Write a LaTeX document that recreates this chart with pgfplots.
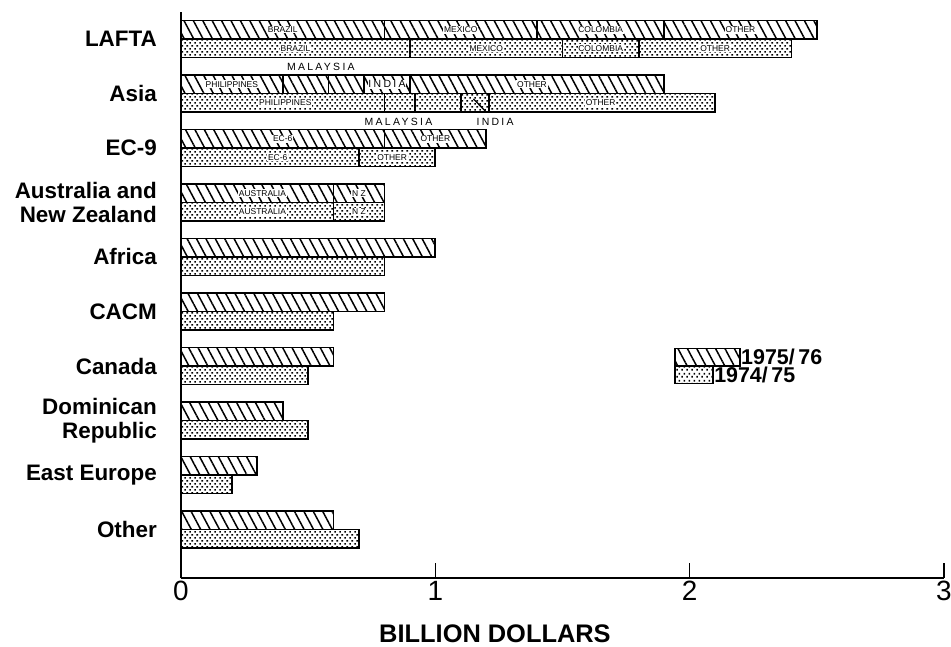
\documentclass[border=0pt]{standalone}
\usepackage{fontspec}
\setmainfont{Liberation Sans}
\usepackage{pgfplots}
\pgfplotsset{compat=1.18}
\usetikzlibrary{patterns,patterns.meta}

\pgfdeclarepatternformonly{mydots}{\pgfqpoint{0bp}{0bp}}{\pgfqpoint{4.6bp}{6.4bp}}{\pgfqpoint{4.6bp}{6.4bp}}{%
 \pgfpathrectangle{\pgfqpoint{0.4bp}{0.4bp}}{\pgfqpoint{1.7bp}{1.7bp}}%
 \pgfpathrectangle{\pgfqpoint{2.7bp}{3.6bp}}{\pgfqpoint{1.7bp}{1.7bp}}%
 \pgfusepath{fill}}

\tikzset{
 hatchfill/.style={draw=black, line width=1.8bp, fill=white, postaction={pattern={Lines[angle=-62,distance=8.3bp,line width=1.5bp]}}},
 dotfill/.style={draw=black, line width=1.8bp, fill=white, postaction={pattern=mydots}},
 inlab/.style={font=\fontsize{8.5}{9}\selectfont, fill=white, inner sep=0.8bp},
 sp/.style={font=\addfontfeature{LetterSpace=22}\fontsize{10.5}{11}\selectfont, inner sep=0.8bp},
}
\pgfplotsset{
 y76/.style={xbar, bar width=0.34, bar shift=0.17, hatchfill},
 y75/.style={xbar, bar width=0.34, bar shift=-0.17, dotfill},
 common/.style={at={(0,0)}, anchor=south west,
  scale only axis, width=763bp, height=566bp,
  xmin=0, xmax=3, ymin=-0.89, ymax=9.495, clip=false},
}

\begin{document}
\begin{tikzpicture}
\useasboundingbox (-181bp,-69bp) rectangle (770bp,578bp);
\begin{axis}[
 common,
 axis lines=left, axis line style={-, line width=2bp},
 xtick={0,1,2,3}, ytick={0,...,9},
 yticklabels={Other, East Europe, Dominican\\Republic, Canada, CACM, Africa, Australia and\\New Zealand, EC-9, Asia, LAFTA},
 yticklabel style={align=right, anchor=east, inner sep=0pt, xshift=-24bp, font=\bfseries\fontsize{22.5}{24}\selectfont},
 xticklabel style={font=\fontsize{28}{30}\selectfont, inner sep=0pt, anchor=north, yshift=-3bp},
 /pgf/number format/assume math mode=true,
 tick align=inside, major tick length=15bp,
 xtick style={line width=1.5bp, black},
 ytick style={draw=none},
 xlabel={BILLION DOLLARS},
 xlabel style={at={(rel axis cs:0.4115,0)}, anchor=north, inner sep=0pt, yshift=-47bp, font=\bfseries\fontsize{25.5}{27}\selectfont},
]
% 1975/76 layers (cumulative segment ends)
\addplot[y76] coordinates {(2.5,9) (1.9,8) (1.2,7) (0.8,6) (1.0,5) (0.8,4) (0.6,3) (0.4,2) (0.3,1) (0.6,0)};
\addplot[y76] coordinates {(1.9,9) (0.9,8) (0.8,7) (0.6,6)};
\addplot[y76] coordinates {(1.4,9) (0.72,8)};
\addplot[y76] coordinates {(0.8,9) (0.58,8)};
\addplot[y76] coordinates {(0.4,8)};
% 1974/75 layers
\addplot[y75] coordinates {(2.4,9) (2.1,8) (1.0,7) (0.8,6) (0.8,5) (0.6,4) (0.5,3) (0.5,2) (0.2,1) (0.7,0)};
\addplot[y75] coordinates {(1.8,9) (1.21,8) (0.7,7) (0.6,6)};
\addplot[y75] coordinates {(1.5,9) (1.1,8)};
\addplot[y75] coordinates {(0.9,9) (0.92,8)};
\addplot[y75] coordinates {(0.8,8)};
\end{axis}
\begin{axis}[common, hide axis]
% segment labels
\node[inlab] at (axis cs:0.4,9.17) {BRAZIL};
\node[inlab] at (axis cs:1.1,9.17) {MEXICO};
\node[inlab] at (axis cs:1.65,9.17) {COLOMBIA};
\node[inlab] at (axis cs:2.2,9.17) {OTHER};
\node[inlab] at (axis cs:0.45,8.83) {BRAZIL};
\node[inlab] at (axis cs:1.2,8.83) {MEXICO};
\node[inlab] at (axis cs:1.65,8.83) {COLOMBIA};
\node[inlab] at (axis cs:2.1,8.83) {OTHER};
\node[inlab] at (axis cs:0.2,8.17) {PHILIPPINES};
\node[sp, fill=white] at (axis cs:0.81,8.17) {INDIA};
\node[inlab] at (axis cs:1.38,8.17) {OTHER};
\node[sp] at (axis cs:0.55,8.486) {MALAYSIA};
\node[inlab] at (axis cs:0.41,7.83) {PHILIPPINES};
\node[inlab] at (axis cs:1.65,7.83) {OTHER};
\node[sp] at (axis cs:0.855,7.477) {MALAYSIA};
\node[sp] at (axis cs:1.235,7.477) {INDIA};
\draw[line width=1.3bp] (axis cs:1.15,7.9) -- (axis cs:1.2,7.66);
\node[inlab] at (axis cs:0.4,7.17) {EC-6};
\node[inlab] at (axis cs:1.0,7.17) {OTHER};
\node[inlab] at (axis cs:0.38,6.83) {EC-6};
\node[inlab] at (axis cs:0.83,6.83) {OTHER};
\node[inlab] at (axis cs:0.32,6.17) {AUSTRALIA};
\node[inlab] at (axis cs:0.7,6.17) {N Z};
\node[inlab] at (axis cs:0.32,5.83) {AUSTRALIA};
\node[inlab] at (axis cs:0.7,5.83) {N Z};

% legend
\draw[hatchfill] (axis cs:1.942,3) rectangle (axis cs:2.198,3.32);
\draw[dotfill] (axis cs:1.942,2.68) rectangle (axis cs:2.092,3);
\node[anchor=west, inner sep=0bp, xshift=1bp, font=\bfseries\fontsize{21.5}{23}\selectfont] at (axis cs:2.198,3.17) {1975/\,76};
\node[anchor=west, inner sep=0bp, xshift=1bp, font=\bfseries\fontsize{21.5}{23}\selectfont] at (axis cs:2.092,2.83) {1974/\,75};
\end{axis}
\end{tikzpicture}
\end{document}
